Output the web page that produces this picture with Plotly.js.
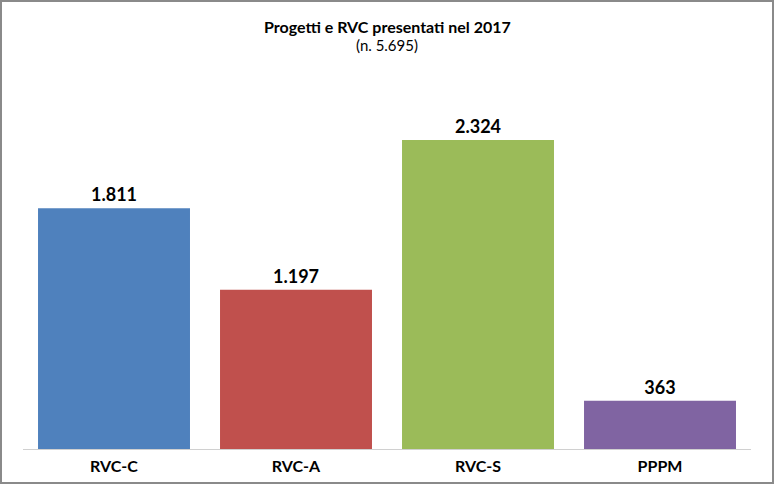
<!DOCTYPE html>
<html>
<head>
<meta charset="utf-8">
<script src="https://cdn.plot.ly/plotly-3.0.1.min.js"></script>
<style>
html,body{margin:0;padding:0;background:#fff;}
#wrap{position:relative;width:774px;height:484px;}
#chart{width:774px;height:484px;}
#frame{position:absolute;left:0;top:0;width:774px;height:484px;box-sizing:border-box;border:2px solid #8a8a8a;pointer-events:none;}
</style>
</head>
<body>
<div id="wrap"><div id="chart"></div><div id="frame"></div></div>
<script>
const categories = ["RVC-C", "RVC-A", "RVC-S", "PPPM"];
const values = [1811, 1197, 2324, 363];
const colors = ["#4F81BD", "#C0504D", "#9BBB59", "#8064A2"];
const titleText = "Progetti e RVC presentati nel 2017";
const subtitleText = "(n. 5.695)";

const trace = {
  type: "bar",
  x: categories,
  y: values,
  marker: {color: colors, line: {width: 0}},
  texttemplate: "%{y:,}",
  textposition: "outside",
  cliponaxis: false,
  textfont: {family: "Lato, 'Open Sans', sans-serif", size: 18, color: "#000", weight: "bold"},
  hoverinfo: "none"
};

const layout = {
  width: 774, height: 484,
  margin: {l: 23, r: 23, t: 70, b: 35},
  paper_bgcolor: "#fff", plot_bgcolor: "#fff",
  separators: ",.",
  bargap: 0.165,
  showlegend: false,
  font: {family: "Lato, 'Open Sans', sans-serif", color: "#000"},
  xaxis: {
    showline: true, linecolor: "#d0d0d0", linewidth: 1,
    ticks: "", showgrid: false, zeroline: false,
    tickfont: {size: 16, weight: "bold", color: "#000"},
    ticklabelstandoff: 3,
    fixedrange: true
  },
  yaxis: {
    range: [0, 2850], visible: false, showgrid: false, zeroline: false, fixedrange: true
  },
  annotations: [
    {text: "<b>" + titleText + "</b>", xref: "paper", yref: "paper", x: 0.5, y: 1, yshift: 44,
     xanchor: "center", yanchor: "middle", showarrow: false, font: {size: 16, color: "#000"}},
    {text: subtitleText, xref: "paper", yref: "paper", x: 0.5, y: 1, yshift: 25,
     xanchor: "center", yanchor: "middle", showarrow: false, font: {size: 15, color: "#000"}}
  ]
};

Plotly.newPlot("chart", [trace], layout, {displayModeBar: false, staticPlot: true});
</script>
</body>
</html>
